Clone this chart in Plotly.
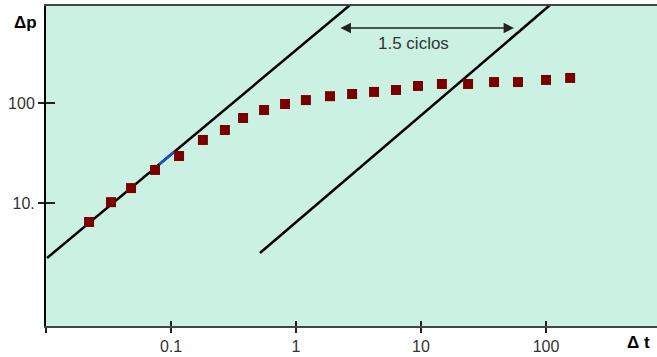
import numpy as np
import plotly.graph_objects as go

# Data
dt = [0.0221, 0.0331, 0.0479, 0.0745, 0.116, 0.180, 0.270, 0.377, 0.555, 0.817,
      1.20, 1.87, 2.81, 4.21, 6.31, 9.46, 14.7, 23.8, 38.4, 59.7, 100, 156]
dp = [6.46, 10.2, 14.1, 21.4, 29.5, 42.7, 53.7, 70.8, 85.1, 97.7,
      107, 117, 123, 129, 135, 148, 155, 155, 162, 162, 170, 178]

line1_t = [0.0102, 3.77]
line1_p = [2.82, 1349]
line2_t = [0.515, 149]
line2_p = [3.16, 1349]
blue_seg_t = [0.0802, 0.1057]   # short blue stretch of the first straight line

arrow_t = [2.21, 55.5]
arrow_p = 562
label_t = 8.63
label_p = 398

xtick_vals = [0.01, 0.1, 1, 10, 100]
xtick_text = ["", "0.1", "1", "10", "100"]
ytick_vals = [10, 100]
ytick_text = ["10.", "100"]

# points of the blue stretch lying on line 1 (log-log interpolation)
blue_seg_p = list(10 ** np.interp(np.log10(blue_seg_t), np.log10(line1_t), np.log10(line1_p)))

fig = go.Figure()
fig.add_trace(go.Scatter(x=line1_t, y=line1_p, mode="lines",
                         line=dict(color="black", width=2.5), showlegend=False))
fig.add_trace(go.Scatter(x=blue_seg_t, y=blue_seg_p, mode="lines",
                         line=dict(color="#1f4fc8", width=2.5), showlegend=False))
fig.add_trace(go.Scatter(x=line2_t, y=line2_p, mode="lines",
                         line=dict(color="black", width=2.5), showlegend=False))
fig.add_trace(go.Scatter(x=dt, y=dp, mode="markers",
                         marker=dict(symbol="square", size=10, color="#7a0000",
                                     line=dict(width=0)),
                         showlegend=False))
fig.add_trace(go.Scatter(x=[], y=[], xaxis="x2", yaxis="y2", showlegend=False))

fig.add_annotation(x=np.log10(arrow_t[1]), y=np.log10(arrow_p),
                   ax=np.log10(arrow_t[0]), ay=np.log10(arrow_p),
                   xref="x", yref="y", axref="x", ayref="y",
                   text="", showarrow=True, arrowhead=2, startarrowhead=2,
                   arrowside="end+start", arrowsize=1.3, arrowwidth=1.6,
                   arrowcolor="#222")
fig.add_annotation(x=np.log10(label_t), y=np.log10(label_p), xref="x", yref="y",
                   text="1.5 ciclos", showarrow=False,
                   font=dict(size=17, color="#333", family="Arial"))

# axis titles placed in paper coordinates (converted from pixel positions)
fig.add_annotation(x=(25 - 46) / 611, y=(326 - 22) / 320, xref="paper", yref="paper",
                   text="<b>Δp</b>", showarrow=False, xanchor="center", yanchor="middle",
                   font=dict(size=17, color="black"))
fig.add_annotation(x=(638 - 46) / 611, y=(326 - 342) / 320, xref="paper", yref="paper",
                   text="<b>Δ t</b>", showarrow=False, xanchor="center", yanchor="middle",
                   font=dict(size=17, color="black"))

fig.update_layout(
    width=657, height=357,
    margin=dict(l=46, r=0, t=6, b=31),
    paper_bgcolor="white", plot_bgcolor="#cbf1e3",
    font=dict(family="Arial", size=16, color="#333"),
    xaxis=dict(type="log", range=[-2, 2.888], showgrid=False, zeroline=False,
               showline=True, linecolor="#444", linewidth=2, mirror=True,
               tickvals=xtick_vals, ticktext=xtick_text,
               ticks="outside", ticklen=5, tickwidth=1.5, tickcolor="#222"),
    yaxis=dict(type="log", range=[-0.23, 2.97], showgrid=False, zeroline=False,
               showline=True, linecolor="black", linewidth=2,
               tickvals=ytick_vals, ticktext=ytick_text,
               ticks="outside", ticklen=6, tickwidth=1.5, tickcolor="#222"),
    xaxis2=dict(type="log", range=[-2, 2.888], overlaying="x", showgrid=False,
                zeroline=False, showticklabels=False, tickvals=xtick_vals,
                ticks="inside", ticklen=5, tickwidth=1.5, tickcolor="#222"),
    yaxis2=dict(type="log", range=[-0.23, 2.97], overlaying="y", showgrid=False,
                zeroline=False, showticklabels=False, tickvals=ytick_vals,
                ticks="inside", ticklen=9, tickwidth=1.5, tickcolor="#222"),
)

fig.write_html("out.html", config={"displayModeBar": False})

# remove default body margin so the figure sits at the window's top-left corner
with open("out.html", "r", encoding="utf-8") as f:
    html = f.read()
html = html.replace("<body>", '<body style="margin:0;overflow:hidden">', 1)
with open("out.html", "w", encoding="utf-8") as f:
    f.write(html)
